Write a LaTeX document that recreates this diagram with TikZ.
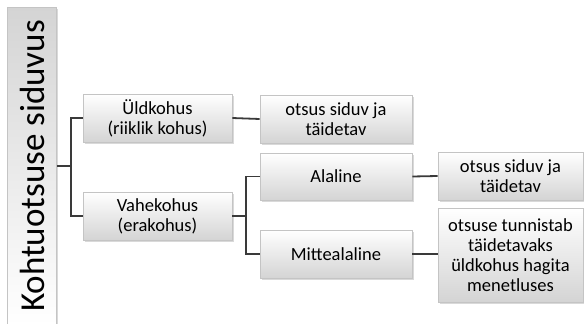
\documentclass[tikz,border=0pt]{standalone}
\usepackage{fontspec}
\setmainfont{Carlito}
\usetikzlibrary{shadows}
\definecolor{lnkgray}{HTML}{3A3A3A}
\definecolor{boxedge}{HTML}{C4C4C4}
\definecolor{boxtop}{HTML}{FFFFFF}
\definecolor{boxbot}{HTML}{D4D4D4}

\tikzset{
  courtbox/.style={draw=boxedge, line width=0.6pt, top color=boxtop, bottom color=boxbot,
    drop shadow={shadow xshift=1.5pt, shadow yshift=-1.5pt, opacity=0.25, fill=black!60},
    align=center, inner sep=2pt, font=\fontsize{18.5}{20}\selectfont},
  link/.style={lnkgray, line width=1.8pt}
}

\begin{document}
\begin{tikzpicture}[x=1pt, y=-1pt]
\useasboundingbox (0,0) rectangle (584,324);

% --- Root: vertical title bar ---
\node[courtbox, top color=boxbot, bottom color=boxtop, minimum width=318, minimum height=49,
  font=\fontsize{35}{40}\selectfont, rotate=90] (root) at (32,166) {Kohtuotsuse siduvus};

% --- First level ---
\node[courtbox, minimum width=149, minimum height=48] (uld) at (157.5,118) {Üldkohus\\(riiklik kohus)};
\node[courtbox, minimum width=149, minimum height=48] (vahe) at (157.5,216) {Vahekohus\\(erakohus)};

% --- Second level ---
\node[courtbox, minimum width=152, minimum height=48] (uldres) at (336,119) {otsus siduv ja\\täidetav};
\node[courtbox, minimum width=152, minimum height=47] (alal) at (336,176.5) {Alaline};
\node[courtbox, minimum width=152, minimum height=48] (mitte) at (336,254) {Mittealaline};

% --- Third level ---
\node[courtbox, minimum width=145, minimum height=48] (alalres) at (510.5,176) {otsus siduv ja\\täidetav};
\node[courtbox, minimum width=145, minimum height=94] (mitteres) at (510.5,255)
  {otsuse tunnistab\\täidetavaks\\üldkohus hagita\\menetluses};

% --- Connectors ---
\draw[link] (root.south) -- ++(14,0) coordinate (rj);
\draw[link] (uld.west) -| (rj) |- (vahe.west);
\draw[link] (uld.east) -- (uldres.west);
\draw[link] (vahe.east) -- ++(14,0) coordinate (vj);
\draw[link] (alal.west) -| (vj) |- (mitte.west);
\draw[link] (alal.east) -- (alalres.west);
\draw[link] (mitte.east) -- (mitte.east -| mitteres.west);

\end{tikzpicture}
\end{document}
